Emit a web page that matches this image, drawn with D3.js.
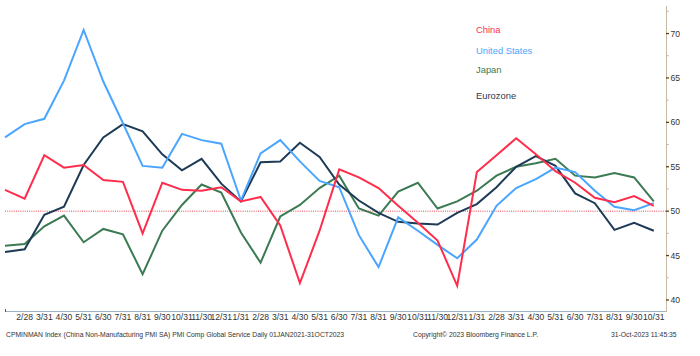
<!DOCTYPE html>
<html><head><meta charset="utf-8">
<script src="https://cdn.jsdelivr.net/npm/d3@7"></script>
<style>body{margin:0;background:#fff}svg{display:block}</style>
</head><body>
<svg id="c" width="700" height="356"></svg>
<script>
const months = ["1/31","2/28","3/31","4/30","5/31","6/30","7/31","8/31","9/30","10/31","11/30","12/31",
"1/31","2/28","3/31","4/30","5/31","6/30","7/31","8/31","9/30","10/31","11/30","12/31",
"1/31","2/28","3/31","4/30","5/31","6/30","7/31","8/31","9/30","10/31"];
const china = [52.4,51.4,56.3,54.9,55.2,53.5,53.3,47.5,53.2,52.4,52.3,52.7,51.1,51.6,48.4,41.9,47.8,54.7,53.8,52.6,50.6,48.7,46.7,41.6,54.4,56.3,58.2,56.4,54.5,53.2,51.5,51.0,51.7,50.6];
const us = [58.3,59.8,60.4,64.7,70.4,64.6,59.9,55.1,54.9,58.7,58.0,57.6,51.2,56.5,58.0,55.6,53.4,52.7,47.3,43.7,49.3,47.8,46.2,44.7,46.8,50.6,52.6,53.6,54.9,54.4,52.3,50.5,50.1,50.9];
const japan = [46.1,46.3,48.3,49.5,46.5,48.0,47.4,42.9,47.8,50.7,53.0,52.1,47.6,44.2,49.4,50.7,52.6,54.0,50.3,49.5,52.2,53.2,50.3,51.1,52.3,54.0,55.0,55.4,55.9,54.0,53.8,54.3,53.8,51.1];
const euro = [45.4,45.7,49.6,50.5,55.2,58.3,59.8,59.0,56.4,54.6,55.9,53.1,51.1,55.5,55.6,57.7,56.1,53.0,51.2,49.8,48.8,48.6,48.5,49.8,50.8,52.7,55.0,56.2,55.1,52.0,50.9,47.9,48.7,47.8];
const seriesNames = ["China","United States","Japan","Eurozone"];
const yTicks = [40,45,50,55,60,65,70];
const yMinor = [42.5,47.5,52.5,57.5,62.5,67.5,72.5];

const svg = d3.select("#c");
const font = "Liberation Sans, Arial, sans-serif";
const idx = d3.range(months.length);
const x = d3.scaleLinear().domain([0, months.length-1]).range([5, 653.8]);
const y = d3.scaleLinear().domain([38.76, 73.1]).range([311, 6]);
const axisX = 666;

// reference line at 50
svg.append("line").attr("x1",5).attr("x2",axisX).attr("y1",y(50)).attr("y2",y(50))
  .attr("stroke","#e8404c").attr("stroke-width",1).attr("stroke-dasharray","1,1.2");

const colors = ["#ff2d4b","#4aa5ff","#3b7a52","#1d3a56"];
const data = [china, us, japan, euro];
const line = d3.line().x((d,i)=>x(i)).y(d=>y(d));
[2,3,1,0].forEach(k=>{
  svg.append("path").datum(data[k]).attr("d",line).attr("fill","none")
    .attr("stroke",colors[k]).attr("stroke-width",2).attr("stroke-linejoin","miter");
});

// x axis
svg.append("line").attr("x1",5).attr("x2",axisX).attr("y1",311.5).attr("y2",311.5)
  .attr("stroke","#9fb3c6").attr("stroke-width",1);
svg.append("line").attr("x1",5.5).attr("x2",5.5).attr("y1",309).attr("y2",312).attr("stroke","#555");
const xg = svg.append("g").attr("font-family",font).attr("font-size","8.6px").attr("fill","#333");
idx.slice(1).forEach(i=>{
  xg.append("text").attr("x",x(i)).attr("y",320).attr("text-anchor","middle").text(months[i]);
});

// y axis (right)
svg.append("line").attr("x1",axisX+0.5).attr("x2",axisX+0.5).attr("y1",6).attr("y2",312)
  .attr("stroke","#c9bba6").attr("stroke-width",1);
const yg = svg.append("g");
yTicks.forEach(t=>{
  yg.append("line").attr("x1",axisX).attr("x2",axisX+3).attr("y1",y(t)).attr("y2",y(t))
    .attr("stroke","#5a4020").attr("stroke-width",1.3);
  yg.append("text").attr("x",axisX+4.5).attr("y",y(t)+3).attr("font-family",font)
    .attr("font-size","8.6px").attr("fill","#333").text(t);
});
yMinor.forEach(t=>{
  yg.append("line").attr("x1",axisX+1).attr("x2",axisX+2.5).attr("y1",y(t)).attr("y2",y(t))
    .attr("stroke","#b9a990").attr("stroke-width",1);
});

// legend
const legY = [33,54,73,99];
seriesNames.forEach((n,k)=>{
  svg.append("text").attr("x",476).attr("y",legY[k]).attr("font-family",font)
    .attr("font-size","9.4px").attr("fill",k===3?"#2a3a4e":colors[k]).text(n);
});

// footer
const ff = svg.append("g").attr("font-family",font).attr("font-size","6.8px").attr("fill","#333");
ff.append("text").attr("x",6).attr("y",337).text("CPMINMAN Index (China Non-Manufacturing PMI SA) PMI Comp Global Service  Daily 01JAN2021-31OCT2023");
ff.append("text").attr("x",413).attr("y",337).text("Copyright© 2023 Bloomberg Finance L.P.");
ff.append("text").attr("x",611).attr("y",337).text("31-Oct-2023 11:45:35");
</script>
</body></html>
